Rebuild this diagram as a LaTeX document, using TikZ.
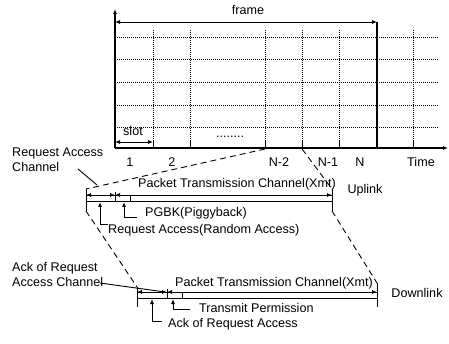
\documentclass[tikz,border=0pt]{standalone}
\usepackage{fontspec}
\setmainfont{Liberation Sans}
\usepackage{tikz}
\usetikzlibrary{positioning, arrows.meta}

\begin{document}
\begin{tikzpicture}[x=1pt, y=-1pt, >={Latex[length=5pt, width=4pt]}, inner sep=0pt, font=\fontsize{12.6}{15}\selectfont,
    axis/.style={line width=1.2pt},
    gridline/.style={line width=0.7pt, dash pattern=on 1pt off 1pt},
    mapline/.style={line width=0.9pt, dash pattern=on 6pt off 4pt},
    barline/.style={line width=0.8pt},
    pointer/.style={line width=0.9pt}]
      \useasboundingbox (0,0) rectangle (449,344);

      \coordinate (O)    at (115,148);
      \coordinate (ytop) at (115,9);
      \coordinate (xend) at (448,148);
      \coordinate (fL)   at (115,22);
      \coordinate (fR)   at (377,22);
      \coordinate (fB)   at (377,148);

      \draw[gridline] (115, 37) -- (438, 37);
      \draw[gridline] (115, 59) -- (438, 59);
      \draw[gridline] (115, 82) -- (438, 82);
      \draw[gridline] (115,105) -- (438,105);
      \draw[gridline] (115,127) -- (438,127);

      \draw[gridline] (153,30) -- (153,141);
      \draw[gridline] (190,30) -- (190,141);
      \draw[gridline] (265,30) -- (265,141);
      \draw[gridline] (302,30) -- (302,141);
      \draw[gridline] (339,30) -- (339,141);
      \draw[gridline] (413,30) -- (413,141);

      \draw[barline] (153,141) -- (153,148);
      \draw[barline] (190,141) -- (190,148);
      \draw[barline] (265,141) -- (265,148);
      \draw[barline] (302,141) -- (302,148);
      \draw[barline] (339,141) -- (339,148);
      \draw[barline] (413,141) -- (413,148);

      \draw[axis, ->] (O) -- (ytop);
      \draw[axis, ->] (O) -- (xend);
      \draw[axis] (fR) -- (fB);
      \draw[barline, <->] (fL) -- (fR);
      \draw[barline, <->] (115,142) -- (153,142);

      \node (frame) at (248,10)  {frame};
      \node (slot)  at (133,131) {slot};
      \node (dots)  at (230,137) {........};

      \node (t1)   at (130,162) {1};
      \node (t2)   at (172,162) {2};
      \node (tN2)  at (279,162) {N-2};
      \node (tN1)  at (328,162) {N-1};
      \node (tN)   at (360,162) {N};
      \node (time) at (421,162) {Time};

      % uplink
      \coordinate (n2)  at (265,149);
      \coordinate (n1)  at (302,149);
      \coordinate (upL) at (86,195);
      \coordinate (upA) at (115,195);
      \coordinate (upR) at (332,195);
      \coordinate (upLt) at (86,189);
      \coordinate (upRt) at (332,189);
      \coordinate (upLb) at (86,211);
      \coordinate (upRb) at (332,211);

      \draw[barline] (86,195) rectangle (332,201);
      \draw[barline] (upLt) -- (upLb);
      \draw[barline] (upRt) -- (upRb);
      \draw[barline] (115,192) -- (115,201);
      \draw[barline] (130,195) -- (130,201);
      \draw[barline, <->] (upL) -- (upA);
      \draw[barline, <->] (upA) -- (upR);

      \draw[mapline] (n2) -- (upLt);
      \draw[mapline] (n1) -- (upRt);

      \node (upPkt)  at (237,184) {Packet Transmission Channel(Xmt)};
      \node (upName) at (365,190) {Uplink};

      \node[anchor=west, align=left] (rac) at (12,160) {Request Access\\Channel};
      \coordinate (racA) at (78,169);
      \coordinate (racB) at (97,185);
      \draw[pointer] (racA) -- (racB);

      \coordinate (raTip) at (100,202);
      \coordinate (pgTip) at (124,202);
      \node[anchor=west] (ra) at (108,230) {Request Access(Random Access)};
      \node[anchor=west] (pg) at (145,213) {PGBK(Piggyback)};
      \draw[pointer, ->] ([yshift=6pt]ra.west) -| (raTip);
      \draw[pointer, ->] ([xshift=-8pt, yshift=-4pt]pg.west) -| (pgTip);

      % downlink
      \coordinate (dnL) at (137,292);
      \coordinate (dnA) at (167,292);
      \coordinate (dnR) at (377,292);
      \coordinate (dnLt) at (137,287);
      \coordinate (dnRt) at (377,283);
      \coordinate (dnLb) at (137,307);
      \coordinate (dnRb) at (377,307);

      \draw[barline] (137,292) rectangle (377,298);
      \draw[barline] (dnLt) -- (dnLb);
      \draw[barline] (dnRt) -- (dnRb);
      \draw[barline] (167,289) -- (167,298);
      \draw[barline] (182,292) -- (182,298);
      \draw[barline, <->] (dnL) -- (dnA);
      \draw[barline, <->] (dnA) -- (dnR);

      \draw[mapline] (upLb) -- (dnLt);
      \draw[mapline] (upRb) -- (dnRt);

      \node (dnPkt)  at (274,283) {Packet Transmission Channel(Xmt)};
      \node (dnName) at (417,293) {Downlink};

      \node[anchor=west, align=left] (arac) at (12,274) {Ack of Request\\Access Channel};
      \coordinate (aracA) at (100,283);
      \coordinate (aracB) at (165,292);
      \draw[pointer] (aracA) -- (aracB);

      \coordinate (akTip) at (152,299);
      \coordinate (tpTip) at (173,299);
      \node[anchor=west] (tp) at (199,308) {Transmit Permission};
      \node[anchor=west] (ak) at (168,324) {Ack of Request Access};
      \draw[pointer, ->] ([xshift=-9pt, yshift=-1pt]tp.west) -| (tpTip);
      \draw[pointer, ->] ([xshift=-6pt, yshift=3pt]ak.west) -| (akTip);
    \end{tikzpicture}
\end{document}
